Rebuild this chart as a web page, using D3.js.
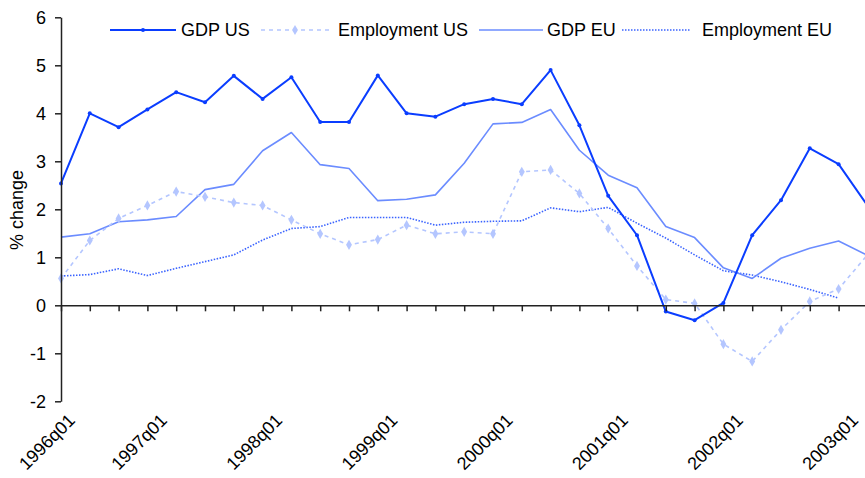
<!DOCTYPE html>
<html>
<head>
<meta charset="utf-8">
<script src="https://cdn.jsdelivr.net/npm/d3@7"></script>
<style>
  html, body { margin: 0; padding: 0; background: #fff; }
  svg { display: block; }
  text { font-family: "Liberation Sans", Arial, sans-serif; fill: #000; }
</style>
</head>
<body>
<svg id="chart" width="865" height="478"></svg>
<script>
const quarters = ["1996q01","1996q02","1996q03","1996q04","1997q01","1997q02","1997q03","1997q04",
  "1998q01","1998q02","1998q03","1998q04","1999q01","1999q02","1999q03","1999q04",
  "2000q01","2000q02","2000q03","2000q04","2001q01","2001q02","2001q03","2001q04",
  "2002q01","2002q02","2002q03","2002q04","2003q01"];
const xTickLabels = ["1996q01","1997q01","1998q01","1999q01","2000q01","2001q01","2002q01","2003q01"];
const yTicks = [-2,-1,0,1,2,3,4,5,6];

const gdpUS = [2.54,4.00,3.71,4.08,4.44,4.23,4.78,4.30,4.75,3.82,3.82,4.79,4.00,3.93,4.19,4.30,4.19,4.90,3.75,2.28,1.46,-0.13,-0.31,0.05,1.46,2.19,3.27,2.94,2.08];
const empUS = [0.56,1.35,1.81,2.08,2.37,2.26,2.14,2.08,1.78,1.49,1.26,1.37,1.67,1.49,1.53,1.49,2.78,2.82,2.33,1.60,0.82,0.12,0.04,-0.81,-1.17,-0.51,0.08,0.34,1.05];
const gdpEU = [1.42,1.49,1.74,1.78,1.85,2.41,2.52,3.22,3.60,2.93,2.85,2.18,2.21,2.30,2.96,3.78,3.81,4.08,3.23,2.71,2.45,1.64,1.41,0.78,0.56,0.98,1.19,1.34,1.04];
const empEU = [0.61,0.64,0.76,0.62,0.77,0.91,1.05,1.36,1.60,1.64,1.83,1.83,1.83,1.67,1.73,1.75,1.76,2.03,1.95,2.04,1.71,1.40,1.05,0.72,0.63,0.49,0.33,0.15,null];

const seriesNames = ["GDP US","Employment US","GDP EU","Employment EU"];

const series = [
  {name: seriesNames[0], values: gdpUS, color: "#0a3dff", width: 2, dash: null, marker: "dot"},
  {name: seriesNames[1], values: empUS, color: "#b4c6ff", width: 1.6, dash: "4,4", marker: "diamond"},
  {name: seriesNames[2], values: gdpEU, color: "#6b8cff", width: 1.6, dash: null, marker: null},
  {name: seriesNames[3], values: empEU, color: "#3a63ff", width: 1.6, dash: "1.5,1.5", marker: null}
];

const svg = d3.select("#chart");
const FONT = 18;

const x = d3.scaleLinear().domain([0, 28]).range([61, 61 + 28 * 28.8]);
const y = d3.scaleLinear().domain([-2, 6]).range([401.3, 17.3]);

const drawOrder = [3, 2, 1, 0];
const lineGen = d3.line()
  .defined(d => d != null)
  .x((d, i) => x(i))
  .y(d => y(d));

drawOrder.forEach(k => {
  const s = series[k];
  svg.append("path")
    .datum(s.values)
    .attr("fill", "none")
    .attr("stroke", s.color)
    .attr("stroke-width", s.width)
    .attr("stroke-dasharray", s.dash)
    .attr("stroke-linejoin", "round")
    .attr("d", lineGen);
  const pts = s.values.map((v, i) => ({v, i})).filter(p => p.v != null);
  if (s.marker === "dot") {
    svg.append("g").selectAll("circle").data(pts).join("circle")
      .attr("cx", p => x(p.i)).attr("cy", p => y(p.v)).attr("r", 2)
      .attr("fill", s.color);
  } else if (s.marker === "diamond") {
    svg.append("g").selectAll("path").data(pts).join("path")
      .attr("d", d3.symbol(d3.symbolDiamond, 30))
      .attr("transform", p => `translate(${x(p.i)},${y(p.v)})`)
      .attr("fill", s.color);
  }
});

// Y axis
const yAxis = svg.append("g")
  .attr("transform", `translate(${x(0)},0)`)
  .call(d3.axisLeft(y).tickValues(yTicks).tickSize(6).tickSizeOuter(0).tickPadding(9)
    .tickFormat(d => String(d)));
yAxis.select(".domain").attr("stroke", "#222").attr("stroke-width", 1.5);
yAxis.selectAll(".tick line").attr("stroke", "#222").attr("stroke-width", 1.5);
yAxis.selectAll(".tick text").style("font-size", FONT + "px").attr("font-family", null).attr("fill", "#000");

// X axis at zero
const xAxis = svg.append("g")
  .attr("transform", `translate(0,${y(0)})`)
  .call(d3.axisBottom(x).tickValues(d3.range(quarters.length)).tickSize(6).tickSizeOuter(0).tickFormat(""));
xAxis.select(".domain").attr("stroke", "#222").attr("stroke-width", 1.5);
xAxis.selectAll(".tick line").attr("stroke", "#222").attr("stroke-width", 1.5);

// X labels rotated
const labelY = 421.5;
const minLeft = 18;
xTickLabels.forEach(lbl => {
  const idx = quarters.indexOf(lbl);
  let ax = x(idx) - 8;
  const t = svg.append("text")
    .attr("text-anchor", "end")
    .style("font-size", FONT + "px")
    .text(lbl);
  const len = t.node().getComputedTextLength();
  const left = ax - len * Math.SQRT1_2 - 12 * Math.SQRT1_2;
  if (left < minLeft) ax += (minLeft - left);
  t.attr("transform", `translate(${ax},${labelY}) rotate(-45)`);
});

// Y axis title
svg.append("text")
  .attr("transform", "translate(23,210) rotate(-90)")
  .attr("text-anchor", "middle")
  .style("font-size", FONT + "px")
  .text("% change");

// Legend
const legendItems = [
  {s: series[0], x0: 110, x1: 176, tx: 181},
  {s: series[1], x0: 261, x1: 329, tx: 338},
  {s: series[2], x0: 479, x1: 543, tx: 547},
  {s: series[3], x0: 622, x1: 690, tx: 702}
];
const ly = 30;
legendItems.forEach(it => {
  const s = it.s;
  svg.append("line")
    .attr("x1", it.x0).attr("x2", it.x1).attr("y1", ly).attr("y2", ly)
    .attr("stroke", s.color).attr("stroke-width", s.width)
    .attr("stroke-dasharray", s.dash);
  const mx = (it.x0 + it.x1) / 2;
  if (s.marker === "dot") {
    svg.append("circle").attr("cx", mx).attr("cy", ly).attr("r", 2).attr("fill", s.color);
  } else if (s.marker === "diamond") {
    svg.append("path").attr("d", d3.symbol(d3.symbolDiamond, 30))
      .attr("transform", `translate(${mx},${ly})`).attr("fill", s.color);
  }
  svg.append("text")
    .attr("x", it.tx).attr("y", ly + 6)
    .style("font-size", FONT + "px")
    .text(s.name);
});
</script>
</body>
</html>
